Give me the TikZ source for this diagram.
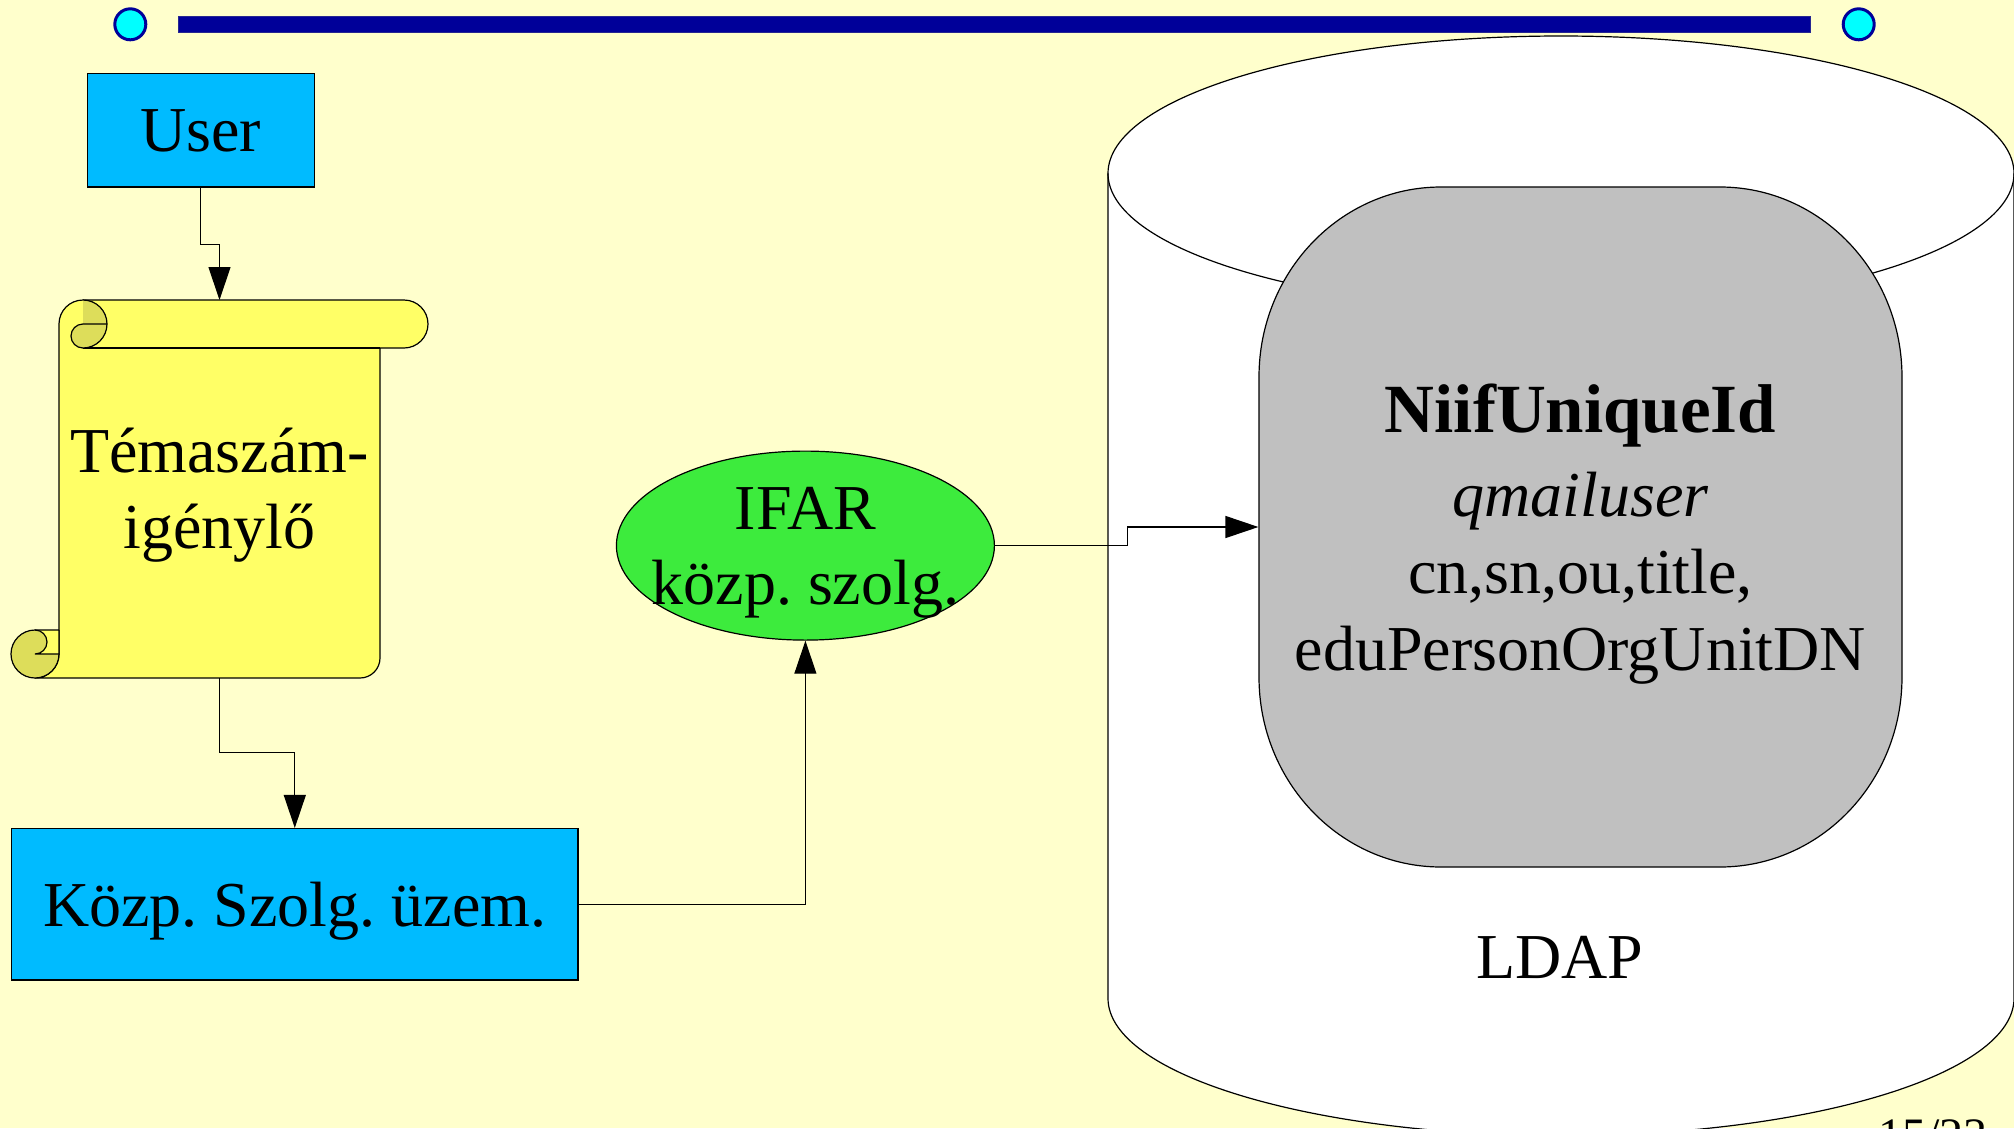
\documentclass[tikz,border=0pt]{standalone}
\usepackage{fontspec}
\setmainfont{Liberation Serif}
\frenchspacing
\usetikzlibrary{shapes.geometric,arrows.meta}
\definecolor{bg}{RGB}{255,255,204}
\definecolor{bardark}{RGB}{0,0,153}
\definecolor{dotcyan}{RGB}{0,255,255}
\definecolor{boxblue}{RGB}{0,187,255}
\definecolor{scrolly}{RGB}{255,255,102}
\definecolor{curl}{RGB}{221,221,90}
\definecolor{ifargreen}{RGB}{61,235,61}
\definecolor{graybox}{RGB}{192,192,192}
\tikzset{
  txt/.style={font=\fontsize{64}{76}\selectfont\frenchspacing, text depth=0pt, inner sep=0pt, align=center},
  bluebox/.style={txt, draw=black, fill=boxblue},
  arr/.style={draw=black, line width=1.2pt, -{Triangle[length=33pt,width=22pt]}},
}
\begin{document}
\begin{tikzpicture}[x=1pt,y=-1pt,line width=1.2pt]
\useasboundingbox (0,0) rectangle (2014,1128);
\clip (0,0) rectangle (2014,1128);
\fill[bg] (0,0) rectangle (2014,1128);
% top decoration
\draw[draw=bardark!70!gray, fill=bardark, line width=0.8pt] (178.6,16.7) rectangle (1810.7,32.3);
\draw[draw=bardark, fill=dotcyan, line width=3pt] (130.3,24.3) circle [radius=15.5];
\draw[draw=bardark, fill=dotcyan, line width=3pt] (1858.7,24.3) circle [radius=15.5];
% LDAP cylinder
\draw[fill=white] (1108,173.4) -- (1108,998.3)
  arc[start angle=180, end angle=0, x radius=453, y radius=137.4] -- (2014,173.4)
  arc[start angle=0, end angle=-180, x radius=453, y radius=137.4] -- cycle;
\draw (1108,173.4) arc[start angle=180, end angle=0, x radius=453, y radius=137.4];
% gray rounded shape
\draw[fill=graybox] (1259,377) arc[start angle=180, end angle=270, x radius=182, y radius=190]
  -- (1720,187) arc[start angle=270, end angle=360, x radius=182, y radius=190]
  -- (1902,677) arc[start angle=0, end angle=90, x radius=182, y radius=190]
  -- (1441,867) arc[start angle=90, end angle=180, x radius=182, y radius=190] -- cycle;
\node[txt, font=\fontsize{64}{77}\selectfont, minimum width=643pt, minimum height=680pt] (niif) at (1580.5,527)
  {{\fontsize{69}{77}\selectfont\bfseries NiifUniqueId}\\[6.5pt]{\itshape qmailuser}\\cn,sn,ou,title,\\eduPersonOrgUnitDN};
\node[txt] (ldap) at (1560,957) {LDAP};
% scroll
\draw[fill=scrolly] (59,324) -- (59,654) arc[start angle=0, end angle=90, radius=24]
  -- (360,678) arc[start angle=90, end angle=0, radius=20]
  -- (380,348) -- (404,348) arc[start angle=90, end angle=-90, radius=24]
  -- (83,300) arc[start angle=270, end angle=180, radius=24] -- cycle;
\draw (83,348) -- (380,348);
\fill[curl] (83,300) arc[start angle=270, end angle=450, radius=24]
  arc[start angle=90, end angle=270, radius=12] -- cycle;
\draw (83,300) arc[start angle=270, end angle=450, radius=24]
  arc[start angle=90, end angle=270, radius=12] -- (107,324);
\fill[scrolly] (35,630) rectangle (59,654);
\fill[curl] (59,654) arc[start angle=0, end angle=270, radius=24]
  arc[start angle=270, end angle=450, radius=12] -- cycle;
\draw (59,630) -- (35,630) arc[start angle=270, end angle=0, radius=24] -- (59,630);
\draw (35,630) arc[start angle=270, end angle=450, radius=12] -- (59,654);
\node[txt] (scroll) at (219.5,488.5) {Témaszám-\\igénylő};
\coordinate (scrolltop) at (219.5,300);
\coordinate (scrollbot) at (219.5,678);
% boxes
\node[bluebox, minimum width=227pt, minimum height=113.7pt] (user) at (200.75,130.2) {User};
\node[bluebox, minimum width=566.4pt, minimum height=151.5pt] (kozp) at (294.8,904.3) {Közp. Szolg. üzem.};
\node[ellipse, draw=black, fill=ifargreen, minimum width=378pt, minimum height=189pt, inner sep=0pt] (ifar) at (805.4,545.6) {};
\node[txt, font=\fontsize{64}{75}\selectfont\frenchspacing] (ifartext) at (ifar.center) {IFAR\\közp. szolg.};
% page number
\node[anchor=base west, inner sep=0pt, font=\fontsize{48}{56}\selectfont] (pnum) at (1878,1151.7) {15/23};
% connectors
\draw[arr] (user.south) -- ++(0,56.7) -| (scrolltop);
\draw[arr] (scrollbot) -- ++(0,74.6) -| (kozp.north);
\draw[arr] (kozp.east) -| (ifar.south);
\draw[arr] (ifar.east) -- ++(132.7,0) |- (niif.west);
\end{tikzpicture}
\end{document}
